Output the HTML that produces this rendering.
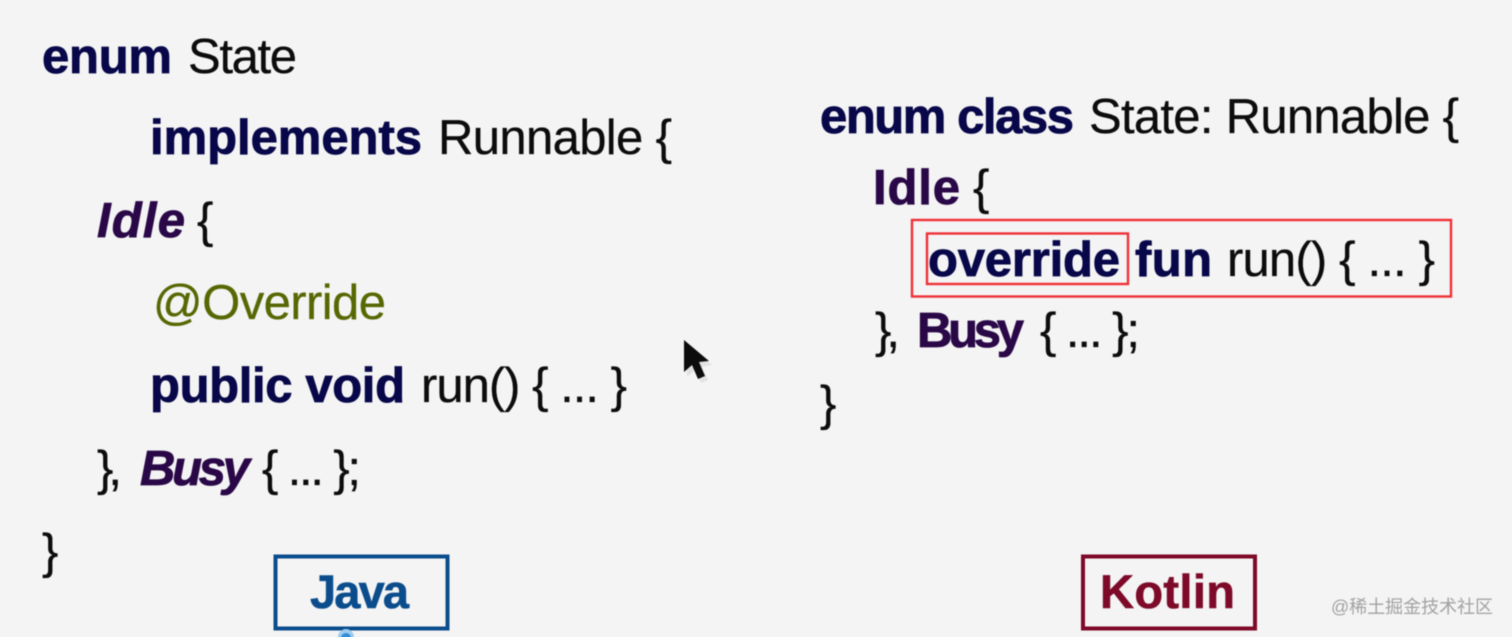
<!DOCTYPE html>
<html><head><meta charset="utf-8"><style>
html,body{margin:0;padding:0}
body{width:1512px;height:637px;background:#f4f4f4;overflow:hidden}
svg{position:absolute;left:0;top:0;display:block}
text{font-family:"Liberation Sans","Noto Sans CJK SC",sans-serif;font-size:49px;fill:#0c0c0c;stroke:#0c0c0c;stroke-width:.3px;white-space:pre}
.k{fill:#07074a;stroke:#07074a;stroke-width:.8px;font-weight:700}
.p{fill:#2a0848;stroke:#2a0848;stroke-width:.8px;font-weight:700}
.i{font-style:italic}
.g{fill:#566803;stroke:#566803}
.j{fill:#0b4d8c;stroke:#0b4d8c;stroke-width:.6px;font-weight:700;font-size:47px}
.o{fill:#7d0a28;stroke:#7d0a28;stroke-width:.6px;font-weight:700;font-size:47px}
.w{font-size:18px;fill:#a2a2a2;stroke:none}
.soft{filter:blur(.4px)}
</style></head><body>
<svg width="1512" height="637" viewBox="0 0 1512 637">
<g class="soft">
<text x="42" y="73" class="k" textLength="130">enum</text>
<text x="188" y="73" textLength="109">State</text>
<text x="150" y="154" class="k" textLength="272">implements</text>
<text x="438" y="154" textLength="234">Runnable {</text>
<text x="97" y="237" class="p i" textLength="88">Idle</text>
<text x="197" y="237" textLength="15">{</text>
<text x="153" y="319" class="g" textLength="233">@Override</text>
<text x="150" y="402" class="k" textLength="255">public void</text>
<text x="421" y="402" textLength="206">run() { ... }</text>
<text x="97" y="485" textLength="25">},</text>
<text x="140" y="485" class="p i" textLength="110">Busy</text>
<text x="262" y="485" textLength="99">{ ... };</text>
<text x="42" y="568" textLength="14">}</text>

<text x="820" y="133" class="k" textLength="254">enum class</text>
<text x="1089" y="133" textLength="370">State: Runnable {</text>
<text x="873" y="204" class="p" textLength="87">Idle</text>
<text x="973" y="204" textLength="16">{</text>
<text x="928" y="276" class="k" textLength="192">override</text>
<text x="1135" y="276" class="k" textLength="77">fun</text>
<text x="1227" y="276" textLength="208">run() { ... }</text>
<text x="875" y="347" textLength="25">},</text>
<text x="917" y="347" class="p" textLength="107">Busy</text>
<text x="1040" y="347" textLength="100">{ ... };</text>
<text x="820" y="420" textLength="14">}</text>

<text x="310" y="608" class="j" textLength="99">Java</text>
<text x="1100" y="608" class="o" textLength="135">Kotlin</text>
<text x="1331" y="613" class="w" textLength="162">@稀土掘金技术社区</text>

<rect x="275.5" y="556.5" width="172" height="72" fill="none" stroke="#0b4d8c" stroke-width="4"/>
<rect x="1083" y="556.5" width="172" height="72" fill="none" stroke="#7d0a28" stroke-width="4"/>
<rect x="912" y="220" width="539" height="76.5" fill="none" stroke="#ee2f35" stroke-width="2.4"/>
<rect x="927" y="233.5" width="201" height="50.5" fill="none" stroke="#ee2f35" stroke-width="2.4"/>

<path d="M687 344 L687 377 L695 370 L701 383 L708 380 L702 367 L712 365 Z" fill="#e2e2e2"/>
<path d="M684 340 L684 372 L692 365 L698 379 L705 376 L699 362 L709 361 Z" fill="#0c0c0c"/>
<circle cx="346" cy="637" r="8" fill="#9ccbee"/>
<circle cx="346" cy="638" r="5" fill="#2f8fd8"/>
</g>
</svg>
</body></html>
